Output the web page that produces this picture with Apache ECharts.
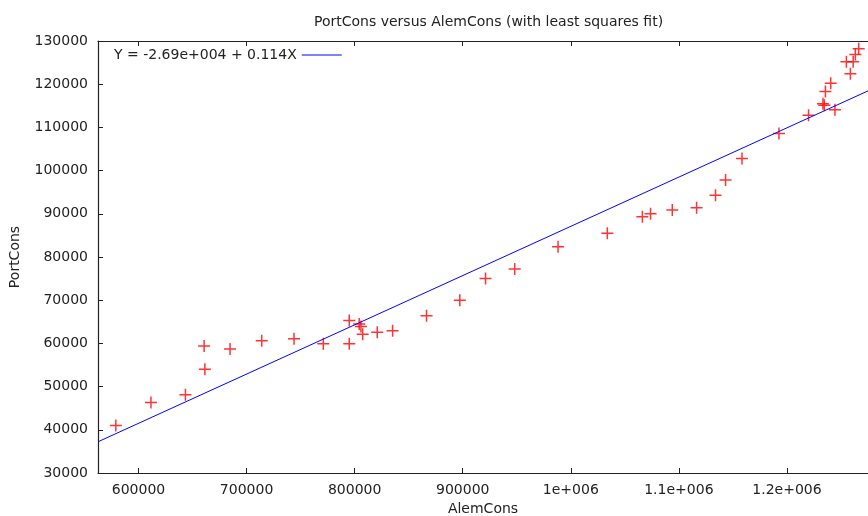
<!DOCTYPE html>
<html>
<head>
<meta charset="utf-8">
<script src="https://cdn.jsdelivr.net/npm/echarts@6/dist/echarts.min.js"></script>
<style>
  html, body { margin: 0; padding: 0; background: #fff; }
  #main { width: 868px; height: 516px; }
</style>
</head>
<body>
<div id="main"></div>
<script>
// observed points
var alemCons = [579000, 611500, 643400, 660700, 661400, 684700, 714000, 743900, 771000, 795000,
    795000, 804200, 805800, 807400, 820900, 835100, 866500, 897300, 921100, 948100,
    988200, 1033800, 1066200, 1073800, 1093900, 1116400, 1133900, 1143200, 1158400, 1192600,
    1220000, 1233300, 1234600, 1235600, 1240500, 1244400, 1258700, 1255000, 1261300, 1263300,
    1266400];
var portCons = [41000, 46300, 48100, 59400, 54000, 58700, 60600, 61100, 59900, 65300,
    59900, 64500, 63900, 62100, 62600, 62900, 66400, 70000, 75000, 77200,
    82400, 85500, 89300, 90000, 90900, 91400, 94300, 97800, 102800, 108600,
    112800, 115500, 115100, 118300, 120200, 114100, 122400, 125200, 125200, 126900,
    128200];

// least squares fit, as printed in the key
var fitIntercept = -26900;
var fitSlope = 0.114;
var fitName = 'Y = -2.69e+004 + 0.114X';

var xTicks = [600000, 700000, 800000, 900000, 1000000, 1100000, 1200000];
var xTickLabels = ['600000', '700000', '800000', '900000', '1e+006', '1.1e+006', '1.2e+006'];
var xMin = 562500, xMax = 1275000;
var yMin = 30000, yMax = 130000;

var myChart = echarts.init(document.getElementById('main'));

var pts = [];
for (var i = 0; i < alemCons.length; i++) {
    pts.push([alemCons[i], portCons[i]]);
}
var fitLine = [
    [xMin, fitIntercept + fitSlope * xMin],
    [xMax, fitIntercept + fitSlope * xMax]
];

var font = 'DejaVu Sans';
var axisColor = '#222';

option = {
    animation: false,
    title: {
        text: 'PortCons versus AlemCons (with least squares fit)',
        left: 309,
        top: 10,
        textStyle: { fontFamily: font, fontSize: 14, fontWeight: 'normal', color: '#222' }
    },
    legend: {
        data: [fitName],
        left: 109,
        top: 43,
        align: 'right',
        itemWidth: 40,
        itemHeight: 14,
        itemGap: 8,
        icon: 'path://M0,6.5H40V7.5H0Z',
        textStyle: { fontFamily: font, fontSize: 14, color: '#222' }
    },
    grid: { left: 98, right: 0, top: 41, bottom: 43, outerBoundsMode: 'none' },
    xAxis: [
        {
            type: 'value',
            min: xMin,
            max: xMax,
            name: 'AlemCons',
            nameLocation: 'middle',
            nameGap: 28,
            nameTextStyle: { fontFamily: font, fontSize: 14, color: '#222' },
            splitLine: { show: false },
            axisLine: { lineStyle: { color: axisColor, width: 1.2 } },
            axisTick: { inside: true, length: 5, customValues: xTicks, lineStyle: { color: axisColor } },
            axisLabel: {
                customValues: xTicks,
                margin: 10,
                fontFamily: font, fontSize: 14, color: '#222',
                formatter: function (v) {
                    var k = xTicks.indexOf(v);
                    return k >= 0 ? xTickLabels[k] : '';
                }
            }
        },
        {
            type: 'value',
            position: 'top',
            min: xMin,
            max: xMax,
            splitLine: { show: false },
            axisLine: { lineStyle: { color: axisColor, width: 1.2 } },
            axisTick: { inside: true, length: 5, customValues: xTicks, lineStyle: { color: axisColor } },
            axisLabel: { show: false }
        }
    ],
    yAxis: {
        type: 'value',
        min: yMin,
        max: yMax,
        interval: 10000,
        name: 'PortCons',
        nameLocation: 'middle',
        nameGap: 76,
        nameTextStyle: { fontFamily: font, fontSize: 14, color: '#222' },
        splitLine: { show: false },
        axisLine: { show: true, lineStyle: { color: axisColor, width: 1.2 } },
        axisTick: { show: true, inside: true, length: 5, lineStyle: { color: axisColor } },
        axisLabel: {
            margin: 10, fontFamily: font, fontSize: 14, color: '#222',
            formatter: function (v) { return String(v); }
        }
    },
    series: [
        {
            name: 'data',
            type: 'scatter',
            symbol: 'path://M0,5.25H12V6.75H0Z M5.25,0H6.75V12H5.25Z',
            symbolSize: 12,
            itemStyle: { color: '#ff0000' },
            data: pts
        },
        {
            name: fitName,
            type: 'line',
            showSymbol: false,
            lineStyle: { color: '#0000ff', width: 1 },
            itemStyle: { color: '#0000ff' },
            data: fitLine
        }
    ]
};
myChart.setOption(option);
</script>
</body>
</html>
